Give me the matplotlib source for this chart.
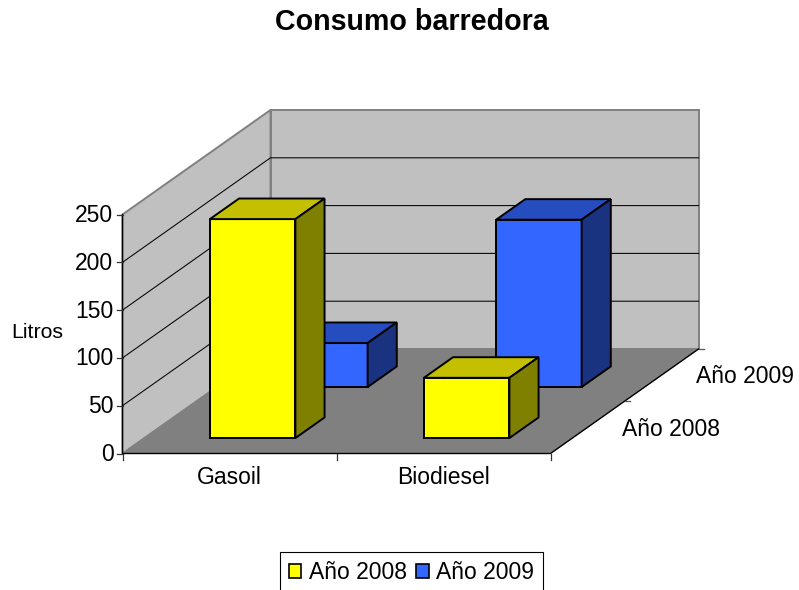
import matplotlib
matplotlib.use('Agg')
from matplotlib import pyplot as plt
from matplotlib.patches import Patch

categories = ['Gasoil', 'Biodiesel']
series_names = ['Año 2008', 'Año 2009']
litros_2008 = [229, 63]
litros_2009 = [46, 175]
y_ticks = [0, 50, 100, 150, 200, 250]

# colours: front, top, side
col_2008 = ['#FFFF00', '#C4C000', '#808000']
col_2009 = ['#3366FF', '#264DBF', '#1A3380']

plt.rcParams['font.family'] = ['Liberation Sans', 'DejaVu Sans']

# oblique projection, everything is drawn in pixel space of the figure
x0, y0 = 122.5, 453.5
cat_w = 214.0
y_scale = 239.0 / 250
dep_x, dep_y = 148.0, -104.5
bar_frac = 85.5 / cat_w
bar_gap = 65.5 / cat_w
bar_dep = 0.197
dep_start = [0.148, 0.636]


def proj(c, d, v):
    # c = position in categories, d = depth 0-1, v = litres
    return (x0 + c * cat_w + d * dep_x, y0 + d * dep_y - v * y_scale)


def box(ax, c, d, v, cols, z):
    w = bar_frac
    t = bar_dep
    front = [proj(c, d, 0), proj(c + w, d, 0), proj(c + w, d, v), proj(c, d, v)]
    top = [proj(c, d, v), proj(c + w, d, v), proj(c + w, d + t, v), proj(c, d + t, v)]
    side = [proj(c + w, d, 0), proj(c + w, d + t, 0), proj(c + w, d + t, v), proj(c + w, d, v)]
    for pts, col in zip([front, top, side], cols):
        ax.fill(*zip(*pts), facecolor=col, edgecolor='k', lw=1.4, joinstyle='miter', zorder=z)


fig = plt.figure(figsize=(7.99, 5.90), dpi=100)
ax = fig.add_axes([0, 0, 1, 1])
ax.set_xlim(0, 799)
ax.set_ylim(590, 0)
ax.axis('off')

n = len(categories)
ymax = y_ticks[-1]

# walls and floor
left = [proj(0, 0, 0), proj(0, 1, 0), proj(0, 1, ymax), proj(0, 0, ymax)]
back = [proj(0, 1, 0), proj(n, 1, 0), proj(n, 1, ymax), proj(0, 1, ymax)]
floor = [proj(0, 0, 0), proj(n, 0, 0), proj(n, 1, 0), proj(0, 1, 0)]
ax.fill(*zip(*left), facecolor='#C0C0C0', edgecolor='#808080', lw=1.4, zorder=1)
ax.fill(*zip(*back), facecolor='#C0C0C0', edgecolor='#808080', lw=1.4, zorder=1)
ax.fill(*zip(*floor), facecolor='#808080', edgecolor='#808080', lw=0.5, zorder=1)

# gridlines
for v in y_ticks[1:-1]:
    ax.plot(*zip(proj(0, 0, v), proj(0, 1, v), proj(n, 1, v)), color='k', lw=0.75, zorder=2)

# axis lines
ax.plot(*zip(proj(0, 0, ymax), proj(0, 0, 0), proj(n, 0, 0), proj(n, 1, 0)), color='k', lw=1.0, zorder=2)
for v in y_ticks:
    px, py = proj(0, 0, v)
    ax.plot([px - 6, px], [py, py], color='#333333', lw=0.9, zorder=2)
    ax.text(px - 9, py + 1, str(v), ha='right', va='center', fontsize=16.5)
for i in range(n + 1):
    px, py = proj(i, 0, 0)
    ax.plot([px, px], [py, py + 6], color='#333333', lw=0.9, zorder=2)
for i, name in enumerate(categories):
    px, py = proj(i + 0.5, 0, 0)
    ax.text(px, py + 24, name, ha='center', va='center', fontsize=16.5)
for i, name in enumerate(series_names):
    d = (i + 1) / len(series_names)
    px, py = proj(n, d, 0)
    ax.plot([px, px + 5], [py, py], color='#555555', lw=0.9, zorder=2)
    px, py = proj(n, i / len(series_names), 0)
    ax.text(px + 72, py - 24.5, name, ha='left', va='center', fontsize=16.5)

# bars, back row first
for z, d, vals, cols in [(3, dep_start[1], litros_2009, col_2009), (4, dep_start[0], litros_2008, col_2008)]:
    for i, v in enumerate(vals):
        box(ax, i + bar_gap, d, v, cols, z)

ax.text(37, 332, 'Litros', ha='center', va='center', fontsize=15.3)
ax.text(411.5, 22, 'Consumo barredora', ha='center', va='center', fontsize=20.6, fontweight='bold')

handles = [Patch(facecolor=col_2008[0], edgecolor='k', lw=1.2), Patch(facecolor=col_2009[0], edgecolor='k', lw=1.2)]
leg = ax.legend(handles, series_names, loc='upper left', bbox_to_anchor=(280 / 799, 1 - 552 / 590),
                ncol=2, fontsize=16.5, frameon=True, fancybox=False, edgecolor='k', framealpha=1,
                handlelength=0.55, handleheight=0.55, handletextpad=0.33, columnspacing=0.4,
                borderpad=0.38, borderaxespad=0)
leg.get_frame().set_linewidth(0.8)

fig.savefig('out.png', dpi=100)
